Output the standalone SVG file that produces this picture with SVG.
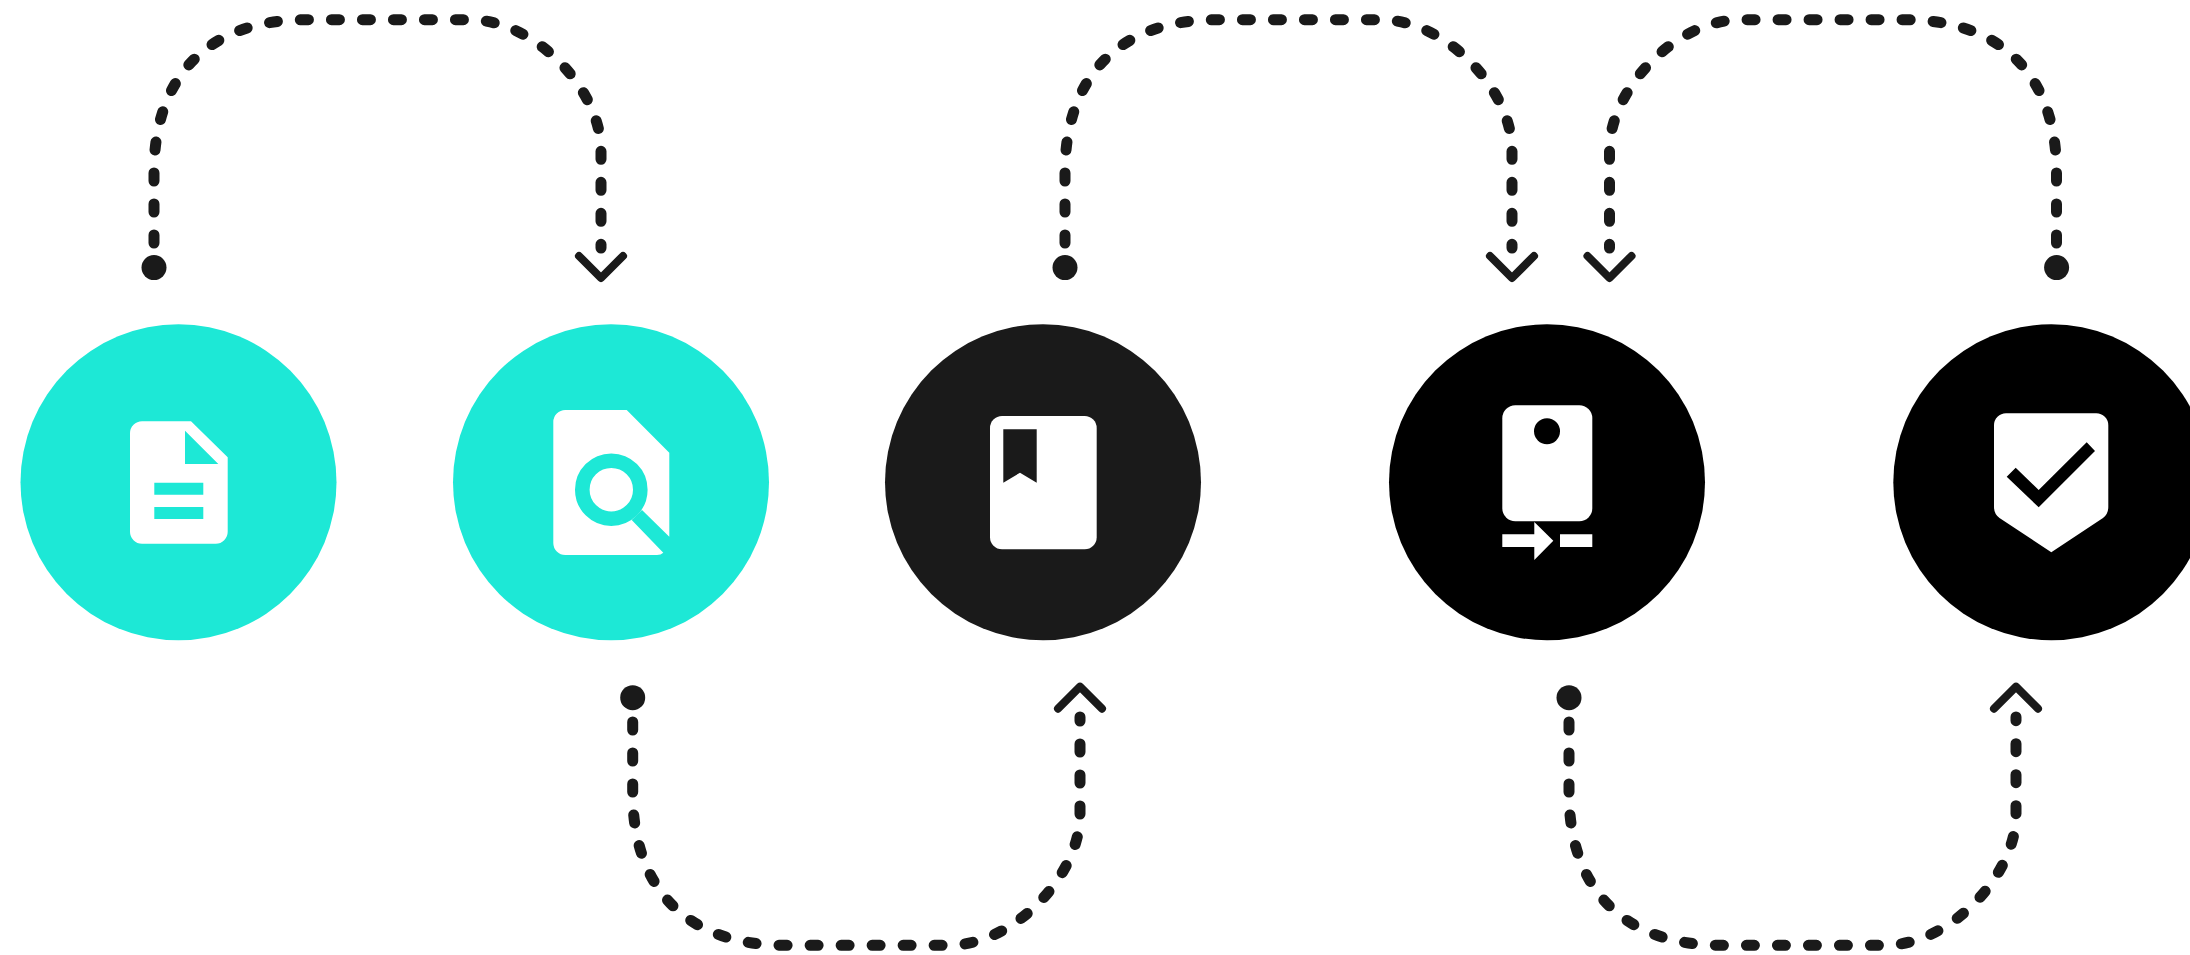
<svg xmlns="http://www.w3.org/2000/svg" width="2190" height="955" viewBox="0 0 2190 955">
<style>
.teal{fill:#1de8d6}.dark{fill:#1a1a1a}.blk{fill:#000}.w{fill:#fff}
.dash{fill:none;stroke:#1a1a1a;stroke-width:11;stroke-linecap:round;stroke-dasharray:8 23}
.chev{fill:none;stroke:#1a1a1a;stroke-width:8;stroke-linecap:round;stroke-linejoin:round}
</style>
<rect width="2190" height="955" fill="#fff"/>
<g id="connectors">
<g id="c1"><circle class="dark" cx="154" cy="267.6" r="12.5"/><path class="dash" d="M154 243V172C154 80 205 19.7 306 19.7H470C535 19.7 601 90 601 150V248"/><path class="chev" d="M579 256L601 278L623 256"/></g>
<g id="c2"><circle class="dark" cx="632.7" cy="697.7" r="12.5"/><path class="dash" d="M632.7 722V793C632.7 885 683.7 945.3 784.7 945.3H949C1014 945.3 1080 875 1080 815V717"/><path class="chev" d="M1058 708.7L1080 686.7L1102 708.7"/></g>
<g id="c3"><circle class="dark" cx="1065" cy="267.6" r="12.5"/><path class="dash" d="M1065 243V172C1065 80 1116 19.7 1217 19.7H1381C1446 19.7 1512 90 1512 150V248"/><path class="chev" d="M1490 256L1512 278L1534 256"/></g>
<g id="c4"><circle class="dark" cx="1569" cy="697.7" r="12.5"/><path class="dash" d="M1569 722V793C1569 885 1620 945.3 1721 945.3H1885C1950 945.3 2016 875 2016 815V717"/><path class="chev" d="M1994 708.7L2016 686.7L2038 708.7"/></g>
<g id="c5"><circle class="dark" cx="2056.6" cy="267.6" r="12.5"/><path class="dash" d="M2056.5 243V172C2056.5 80 2005.5 19.7 1904.5 19.7H1740.5C1675.5 19.7 1609.5 90 1609.5 150V248"/><path class="chev" d="M1587.5 256L1609.5 278L1631.5 256"/></g>
</g>
<g id="node1"><circle class="teal" cx="178.5" cy="482.3" r="158"/>
<path class="w" d="M142 421.3H191L227.7 457.3V531.7A12 12 0 0 1 215.7 543.7H142A12 12 0 0 1 130 531.7V433.3A12 12 0 0 1 142 421.3Z"/>
<path class="teal" d="M185 430.7V464H218.3ZM154.3 482.7H203.3V494.7H154.3ZM154.3 507H203.3V519H154.3Z"/></g>
<g id="node2"><circle class="teal" cx="611" cy="482.3" r="158"/>
<path class="w" d="M565.3 410H626.7L669.3 452.7V536.7L642 510L631.7 520L663.3 552.7Q661 555 657 555H565.3A12 12 0 0 1 553.3 543V422A12 12 0 0 1 565.3 410Z"/>
<circle cx="611.3" cy="489.7" r="29" fill="#fff" stroke="#1de8d6" stroke-width="14.6"/></g>
<g id="node3"><circle class="dark" cx="1043" cy="482.3" r="158"/>
<rect class="w" x="990" y="416" width="106.7" height="133.3" rx="12"/>
<path class="dark" d="M1003.3 429.3H1036.7V482.7L1020 472.7L1003.3 482.7Z"/></g>
<g id="node4"><circle class="blk" cx="1547" cy="482.3" r="158"/>
<rect class="w" x="1502.3" y="405.3" width="90" height="116" rx="13"/>
<circle class="blk" cx="1547" cy="431.3" r="13"/>
<path class="w" d="M1502.3 534.3H1534.3V522L1553.3 540.7L1534.3 560V547H1502.3ZM1560 534.3H1592.3V547H1560Z"/></g>
<g id="node5"><circle class="blk" cx="2051.3" cy="482.3" r="158"/>
<path class="w" d="M2006 413.3H2096.3A12 12 0 0 1 2108.3 425.3V507Q2108.3 514 2103 518L2051.3 552.3L1999.5 518Q1994 514 1994 507V425.3A12 12 0 0 1 2006 413.3Z"/>
<path class="blk" d="M2006.7 476.7L2015.7 467.7L2038.7 490L2086.7 442.3L2095 451L2038.7 507.3Z"/></g>
</svg>
